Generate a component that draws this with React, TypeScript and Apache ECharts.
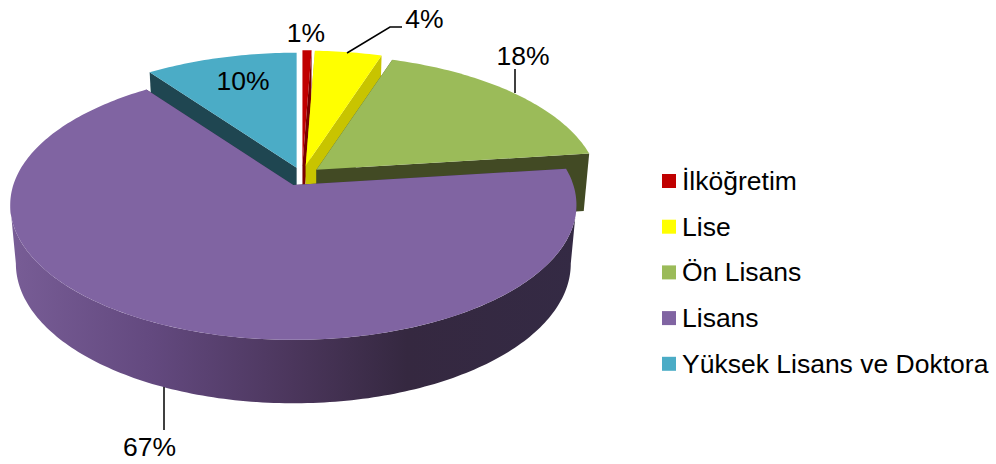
import React, { useEffect, useRef } from "react";
import * as echarts from "echarts";

const categories = ["İlköğretim", "Lise", "Ön Lisans", "Lisans", "Yüksek Lisans ve Doktora"];
const values = [0.6, 4.4, 18, 67, 10];
const drawOrder = [4, 0, 1, 2, 3];
const explodes = [0.078, 0.076, 0.067, 0.078, 0.062];
const topColors = ["#C00000", "#FFFF00", "#9BBB59", "#8064A2", "#4BACC6"];
const cutColors = ["#7A0000", "#C8C400", "#424A24", "#3A2D4A", "#1F4651"];
const labelPositions = [[306, 33], [424.5, 19], [523, 56], [149.5, 447], [243, 81]];
const leaderLines: number[][][] = [
  [],
  [[347, 53], [390, 27], [402, 27]],
  [[515, 93], [515, 69]],
  [[164, 387], [164, 430]],
  [],
];

const FONT = '26.5px "Liberation Sans", Arial, sans-serif';
const CX = 302, CY = 175.5, R = 280, S = 132, K = 0.148;
const DEPTH = 58, BX = 0.98, BY = 1.035;
// Where the projected rim turns back on itself: only the arc between these faces the viewer.
const WALL_FROM = Math.acos(-K);
const WALL_TO = Math.PI * 2 - WALL_FROM;

const total = values.reduce((a, b) => a + b, 0);
const starts = values.map((_, i) => values.slice(0, i).reduce((a, b) => a + b, 0));

function arcAngles(a0: number, a1: number) {
  const n = Math.max(2, Math.ceil(((a1 - a0) * 180) / Math.PI));
  const out: number[] = [];
  for (let j = 0; j <= n; j++) out.push(a0 + ((a1 - a0) * j) / n);
  return out;
}

function renderSlice(params: any, api: any) {
  const i = drawOrder[params.seriesIndex];
  const value = api.value(0);
  const before = api.value(1);
  const a0 = (before / total) * Math.PI * 2;
  const a1 = ((before + value) / total) * Math.PI * 2;
  const mid = (a0 + a1) / 2;
  const cx = CX + explodes[i] * R * Math.sin(mid);
  const cy = CY - explodes[i] * S * Math.cos(mid);
  const top = (a: number) => {
    const u = Math.sin(a), v = -Math.cos(a), w = 1 - K * v;
    return [cx + (R * u) / w, cy + (S * v) / w];
  };
  const bot = (a: number) => {
    const u = Math.sin(a), v = -Math.cos(a), w = 1 - K * v;
    return [cx + (BX * R * u) / w, cy + DEPTH + (BY * S * v) / w];
  };
  const apexT = [cx, cy];
  const apexB = [cx, cy + DEPTH];

  const children: any[] = [
    { type: "polygon", shape: { points: [apexT, top(a0), bot(a0), apexB] }, style: { fill: cutColors[i] } },
    { type: "polygon", shape: { points: [apexT, top(a1), bot(a1), apexB] }, style: { fill: cutColors[i] } },
  ];
  const w0 = Math.max(a0, WALL_FROM);
  const w1 = Math.min(a1, WALL_TO);
  if (w1 > w0) {
    const wallAngles = arcAngles(w0, w1);
    children.push({
      type: "polygon",
      shape: { points: [...wallAngles.map(top), ...wallAngles.slice().reverse().map(bot)] },
      style: {
        fill: new echarts.graphic.LinearGradient(0, 0, 1, 0, [
          { offset: 0, color: "#785D96" },
          { offset: 0.25, color: "#63497F" },
          { offset: 0.5, color: "#4B365C" },
          { offset: 0.7, color: "#352840" },
          { offset: 1, color: "#342A44" },
        ]),
      },
    });
  }
  children.push({
    type: "polygon",
    shape: { points: [apexT, ...arcAngles(a0, a1).map(top)] },
    style: { fill: topColors[i] },
  });
  if (leaderLines[i].length) {
    children.push({
      type: "polyline",
      shape: { points: leaderLines[i] },
      style: { stroke: "#000", lineWidth: 1.5, fill: null },
    });
  }
  children.push({
    type: "text",
    style: {
      text: `${Math.round(value)}%`,
      x: labelPositions[i][0],
      y: labelPositions[i][1],
      fill: "#000",
      font: FONT,
      align: "center",
      verticalAlign: "middle",
    },
  });
  return { type: "group", children };
}

export default function App() {
  const ref = useRef<HTMLDivElement>(null);
  useEffect(() => {
    const chart = echarts.init(ref.current!, null, { renderer: "svg" });
    chart.setOption({
      animation: false,
      backgroundColor: "#fff",
      legend: {
        data: categories.map((name) => ({ name, icon: "rect" })),
        orient: "vertical",
        left: 662,
        top: 166,
        itemWidth: 14,
        itemHeight: 14,
        itemGap: 15.7,
        selectedMode: false,
        padding: 0,
        textStyle: {
          fontFamily: '"Liberation Sans", Arial, sans-serif',
          fontSize: 26.5,
          color: "#000",
          padding: [0, 0, 0, 1],
          lineHeight: 30,
        },
      },
      series: drawOrder.map((i) => ({
        type: "custom",
        name: categories[i],
        coordinateSystem: "none",
        silent: true,
        clip: false,
        itemStyle: { color: topColors[i] },
        renderItem: renderSlice,
        data: [[values[i], starts[i]]],
      })),
    });
    return () => chart.dispose();
  }, []);
  return <div ref={ref} style={{ position: "absolute", left: 0, top: 0, width: 996, height: 464 }} />;
}
